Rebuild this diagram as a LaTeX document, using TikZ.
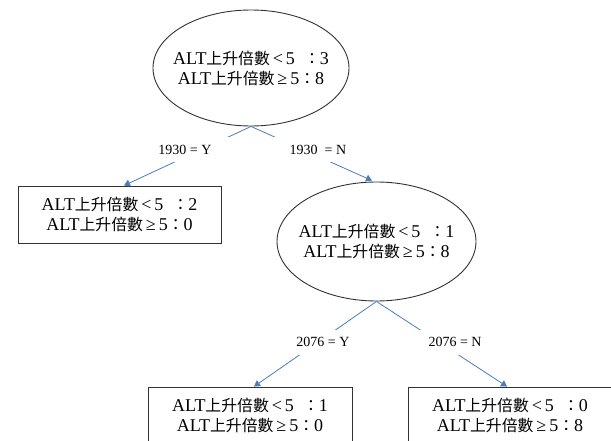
\documentclass[tikz,border=0pt]{standalone}
\usepackage{fontspec}
\setmainfont{Liberation Serif}
\newfontfamily\cjk{Noto Sans CJK TC}[Scale=0.88]
\usetikzlibrary{shapes.geometric,arrows.meta}
\definecolor{linkblue}{RGB}{74,126,187}
\definecolor{outline}{RGB}{50,50,50}
\newcommand\lnA[1]{ALT{\cjk 上升倍數}\,<\,5\hspace{9pt}{\cjk ：}#1}
\newcommand\lnB[1]{ALT{\cjk 上升倍數}\,≥\,5{\cjk ：}#1}
\tikzset{
  txt/.style={font=\fontsize{18}{20}\selectfont, align=center},
  ell/.style={txt, ellipse, draw=outline, line width=0.9pt, inner xsep=-24pt, inner ysep=0pt},
  leaf/.style={txt, rectangle, draw=outline, line width=0.9pt, inner sep=0pt, minimum width=203pt, minimum height=57pt},
  conn/.style={draw=linkblue, line width=0.8pt, -{Triangle[width=7pt,length=6pt]}},
  lbl/.style={font=\fontsize{14}{16}\selectfont, fill=white, inner sep=0pt, minimum width=96pt, minimum height=25pt}
}
\begin{document}
\begin{tikzpicture}
\useasboundingbox (0,0) rectangle (611pt,-441pt);
\begin{scope}
\clip (0,0) rectangle (611pt,-441pt);
\node[ell, minimum width=196pt, minimum height=116pt] (root) at (251pt,-68pt) {\lnA{3}\\\lnB{8}};
\node[leaf] (lbox) at (119.5pt,-214.5pt) {\lnA{2}\\\lnB{0}};
\node[ell, minimum width=199pt, minimum height=119pt] (mid) at (376.5pt,-241.5pt) {\lnA{1}\\\lnB{8}};
\node[leaf, minimum width=204pt] (bl) at (250pt,-415.5pt) {\lnA{1}\\\lnB{0}};
\node[leaf, minimum width=204pt] (br) at (510pt,-415.5pt) {\lnA{0}\\\lnB{8}};

\draw[conn] (root.south) -- ([xshift=4.5pt]lbox.north);
\draw[conn] (root.south) -- ([xshift=-4.5pt,yshift=1pt]mid.north);
\draw[conn] (mid.south) -- ([xshift=4pt]bl.north);
\draw[conn] (mid.south) -- ([xshift=-3pt]br.north);

\node[lbl] (y1) at (185pt,-149.5pt) {1930 = Y};
\node[lbl] (n1) at (318pt,-149.5pt) {1930 \ = N};
\node[lbl] (y2) at (323pt,-342pt) {2076 = Y};
\node[lbl] (n2) at (455pt,-342pt) {2076 = N};
\end{scope}
\end{tikzpicture}
\end{document}
